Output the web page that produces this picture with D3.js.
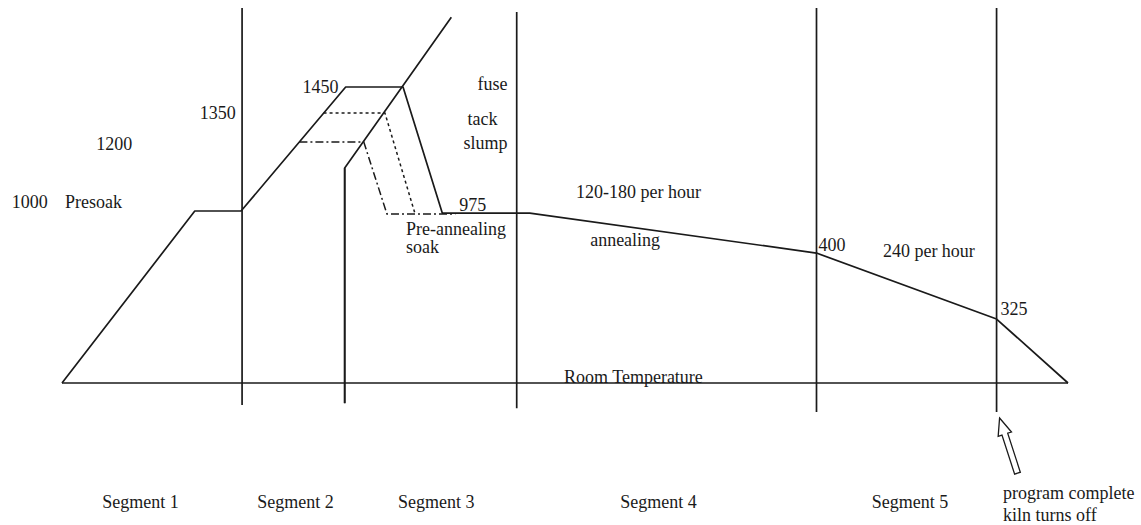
<!DOCTYPE html>
<html>
<head>
<meta charset="utf-8">
<script src="https://cdn.jsdelivr.net/npm/d3@7"></script>
<style>
  body { margin: 0; background: #fff; }
  text { font-family: "Liberation Serif", "Times New Roman", serif; font-size: 18px; fill: #1a1a1a; }
</style>
</head>
<body>
<svg id="chart" width="1141" height="525"></svg>
<script>
// schematic units: t = time (0..100 across the firing), lv = drawing level (0 = room temperature, 100 = 1450 top)
var scheduleT  = [0, 13.2, 17.8, 28.2, 33.9, 37.8, 46.5, 75.0, 92.9, 100];
var scheduleLv = [0, 58.1, 58.1, 100, 100, 57.4, 57.4, 43.9, 21.6, 0];

// alternate firing lines (tack / slump / fuse)
var fuseT   = [28.1, 28.1, 38.7];
var fuseLv  = [-6.8, 72.6, 123.6];
var tackT   = [26.0, 32.1, 35.1];
var tackLv  = [91.2, 91.2, 57.1];
var slumpT  = [23.6, 30.0, 32.3, 39.1];
var slumpLv = [81.4, 81.4, 57.1, 57.1];

// segment divider lines
var dividerT   = [17.9, 28.1, 45.2, 75.0, 92.9];
var dividerTop = [126.7, 72.6, 125.3, 126.7, 126.7];
var dividerBot = [-7.4, -6.8, -8.5, -9.8, -9.8];

var segmentNames = ["Segment 1", "Segment 2", "Segment 3", "Segment 4", "Segment 5"];
var segmentT     = [4.0, 19.4, 33.4, 55.5, 80.5];

// temperature / rate annotations
var noteText = ["1000", "Presoak", "1200", "1350", "1450", "fuse", "tack", "slump", "975",
                "Pre-annealing", "soak", "120-180 per hour", "annealing", "400", "240 per hour",
                "325", "Room Temperature"];
var noteT    = [-5.0, 0.3, 3.4, 13.7, 23.9, 41.3, 40.3, 39.9, 39.5,
                34.2, 34.2, 51.1, 52.5, 75.2, 81.6, 93.3, 49.9];
var noteLv   = [59.1, 59.1, 78.7, 89.2, 98.0, 99.0, 87.2, 79.1, 58.1,
                50.0, 43.9, 62.5, 46.3, 44.6, 42.6, 22.9, 0.0];

var svg = d3.select("#chart");
var x = d3.scaleLinear().domain([0, 100]).range([62, 1068]);
var y = d3.scaleLinear().domain([0, 100]).range([383, 87]);

var ink = "#1a1a1a";
var line = d3.line().x(function(d) { return x(d[0]); }).y(function(d) { return y(d[1]); });

// room temperature base line
svg.append("path")
    .attr("d", line([[0, 0], [100, 0]]))
    .attr("fill", "none").attr("stroke", ink).attr("stroke-width", 1.7);

// segment dividers
svg.selectAll("line.divider")
    .data(dividerT)
    .enter().append("line")
    .attr("class", "divider")
    .attr("x1", function(d) { return x(d); })
    .attr("x2", function(d) { return x(d); })
    .attr("y1", function(d, i) { return y(dividerTop[i]); })
    .attr("y2", function(d, i) { return y(dividerBot[i]); })
    .attr("stroke", ink).attr("stroke-width", 1.7);

// main schedule
svg.append("path")
    .attr("d", line(d3.zip(scheduleT, scheduleLv)))
    .attr("fill", "none").attr("stroke", ink).attr("stroke-width", 1.7)
    .attr("stroke-linejoin", "round");

svg.append("path")
    .attr("d", line(d3.zip(fuseT, fuseLv)))
    .attr("fill", "none").attr("stroke", ink).attr("stroke-width", 1.7);

svg.append("path")
    .attr("d", line(d3.zip(tackT, tackLv)))
    .attr("fill", "none").attr("stroke", ink).attr("stroke-width", 1.5)
    .attr("stroke-dasharray", "3,3");

svg.append("path")
    .attr("d", line(d3.zip(slumpT, slumpLv)))
    .attr("fill", "none").attr("stroke", ink).attr("stroke-width", 1.5)
    .attr("stroke-dasharray", "8,3,2,3");

// annotations
svg.selectAll("text.note")
    .data(noteText)
    .enter().append("text")
    .attr("class", "note")
    .attr("x", function(d, i) { return x(noteT[i]); })
    .attr("y", function(d, i) { return y(noteLv[i]); })
    .text(function(d) { return d; });

svg.selectAll("text.segment")
    .data(segmentNames)
    .enter().append("text")
    .attr("class", "segment")
    .attr("x", function(d, i) { return x(segmentT[i]); })
    .attr("y", 508)
    .text(function(d) { return d; });

// end-of-program arrow (hollow) pointing at the last divider
var tip = [x(dividerT[4]) + 3, y(dividerBot[4]) + 6];
var L = 58, hl = 17, hw = 7, sw = 3;
var arrowPts = [[0, 0], [hw, hl], [sw, hl], [sw, L], [-sw, L], [-sw, hl], [-hw, hl]];
svg.append("path")
    .attr("d", d3.line()(arrowPts) + "Z")
    .attr("transform", "translate(" + tip[0] + "," + tip[1] + ") rotate(-18)")
    .attr("fill", "#fff").attr("stroke", ink).attr("stroke-width", 1.3);

svg.append("text").attr("x", 1003).attr("y", 499).text("program complete");
svg.append("text").attr("x", 1003).attr("y", 521).text("kiln turns off");
</script>
</body>
</html>
